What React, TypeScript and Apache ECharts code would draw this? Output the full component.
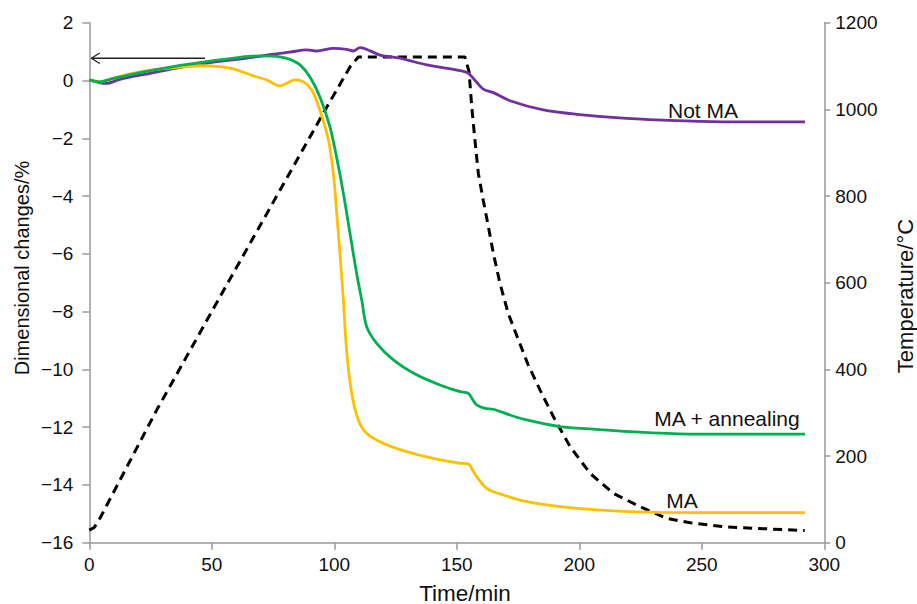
import React, { useEffect, useRef } from "react";
import * as echarts from "echarts";

// ---- Data ----
const xTicks = [0, 50, 100, 150, 200, 250, 300];

const notMaTime = [0, 4.4, 7.1, 12.5, 24.8, 35, 47.8, 64.2, 75.1, 81.9, 88.7, 92.8, 99.6, 105, 107.7, 110.5, 118.7, 126.8, 137.7, 151.3, 154.7, 157.5, 160.8, 164.9, 171.7, 185.3, 198.9, 219.3, 239.8, 260.2, 292.1];
const notMaValues = [0.02, -0.08, -0.1, 0.04, 0.25, 0.42, 0.6, 0.77, 0.91, 0.98, 1.06, 1.02, 1.11, 1.08, 1.02, 1.14, 0.88, 0.77, 0.54, 0.34, 0.25, 0.0, -0.3, -0.42, -0.7, -1.02, -1.17, -1.31, -1.39, -1.43, -1.43];

const annealTime = [0, 4.4, 8.4, 20.7, 34.3, 47.8, 61.5, 69.7, 77.8, 81.9, 86, 90, 94.1, 98.2, 100.9, 103.7, 106.4, 109.1, 111.2, 113.2, 117.3, 124.1, 133.6, 143.1, 151.3, 154.7, 156.5, 158.1, 161.5, 164.9, 171.7, 178.5, 192.1, 205.7, 226.1, 246.5, 292.1];
const annealValues = [0.02, -0.05, 0.04, 0.27, 0.48, 0.65, 0.8, 0.85, 0.82, 0.73, 0.54, 0.13, -0.56, -1.6, -2.64, -3.9, -5.29, -6.67, -7.6, -8.52, -9.1, -9.67, -10.19, -10.54, -10.77, -10.83, -11.05, -11.23, -11.35, -11.38, -11.58, -11.75, -11.98, -12.07, -12.18, -12.24, -12.24];

const maTime = [0, 4.4, 9.8, 20.7, 34.3, 45.2, 53.3, 58.8, 66.9, 72.4, 77.8, 80.5, 83.9, 87.3, 90.8, 94.1, 97.6, 99.6, 101, 102.3, 103.7, 105, 107.1, 109.8, 113.2, 120, 129.5, 140.4, 151.3, 154.7, 156.5, 158.1, 162.2, 167.6, 178.5, 192.1, 212.5, 232.9, 292.1];
const maValues = [0.02, -0.05, 0.08, 0.3, 0.44, 0.51, 0.48, 0.4, 0.16, 0.02, -0.19, -0.1, 0.02, -0.04, -0.33, -1.02, -2.06, -3.21, -4.6, -5.98, -7.6, -9.33, -10.83, -11.75, -12.21, -12.56, -12.85, -13.08, -13.25, -13.27, -13.5, -13.71, -14.12, -14.31, -14.58, -14.75, -14.89, -14.95, -14.96];

const tempTime = [0, 2, 4.4, 27.5, 53.3, 96.2, 106.4, 109.8, 153.3, 155, 156.1, 157.4, 158.8, 160.8, 162.9, 164.9, 167.6, 171, 174.4, 179, 184, 189.4, 196.2, 204.4, 213.9, 224.8, 235.7, 245.2, 258.8, 272.4, 292];
const tempValues = [29, 35, 57, 306, 567, 998, 1098, 1121, 1121, 1087, 1006, 929, 852, 790, 729, 668, 599, 529, 479, 412, 352, 291, 222, 160, 114, 83, 56, 46, 37, 33, 28];

// arrow pointing to the left axis (annotation)
const arrowShaftTime = [47.2, 0.8];
const arrowShaftValue = [0.77, 0.77];
const arrowHeadTime = [4.3, 0.8, 4.3];
const arrowHeadValue = [0.95, 0.77, 0.59];

const zip = (a: number[], b: number[]) => a.map((t, i) => [t, b[i]]);

const FONT = "'Liberation Sans', Arial, Helvetica, sans-serif";
const AXIS_COLOR = "#9a9a9a";
const TEXT_COLOR = "#111";

export default function App() {
  const ref = useRef<HTMLDivElement>(null);
  useEffect(() => {
    if (!ref.current) return;
    const chart = echarts.init(ref.current, undefined, { renderer: "svg" });
    const minus = (v: number) => String(v).replace("-", "\u2212");
    const plain = (v: number) => String(v);
    const axisCommon = {
      axisLine: { show: true, onZero: false, lineStyle: { color: AXIS_COLOR, width: 1.5 } },
      splitLine: { show: false },
    };
    chart.setOption({
      animation: false,
      backgroundColor: "#ffffff",
      textStyle: { fontFamily: FONT },
      grid: { left: 89.3, right: 92.7, top: 22.7, bottom: 61.3, containLabel: false },
      xAxis: {
        type: "value",
        min: xTicks[0],
        max: xTicks[xTicks.length - 1],
        interval: 50,
        ...axisCommon,
        axisTick: { show: true, inside: false, length: 7, lineStyle: { color: AXIS_COLOR, width: 1.5 } },
        axisLabel: { fontSize: 19, color: TEXT_COLOR, margin: 12, fontFamily: FONT, formatter: plain },
      },
      yAxis: [
        {
          type: "value",
          position: "left",
          min: -16,
          max: 2,
          interval: 2,
          ...axisCommon,
          axisTick: { show: true, inside: false, length: 7, lineStyle: { color: AXIS_COLOR, width: 1.5 } },
          axisLabel: { fontSize: 19, color: TEXT_COLOR, margin: 16, fontFamily: FONT, formatter: minus },
        },
        {
          type: "value",
          position: "right",
          min: 0,
          max: 1200,
          interval: 200,
          ...axisCommon,
          axisTick: { show: true, inside: false, length: 6, lineStyle: { color: AXIS_COLOR, width: 1.5 } },
          axisLabel: { fontSize: 19, color: TEXT_COLOR, margin: 11, fontFamily: FONT, formatter: plain },
        },
      ],
      series: [
        {
          name: "Temperature",
          type: "line",
          yAxisIndex: 1,
          data: zip(tempTime, tempValues),
          showSymbol: false,
          smooth: false,
          lineStyle: { color: "#000", width: 3, type: [9, 6] },
          z: 2,
        },
        {
          name: "Not MA",
          type: "line",
          data: zip(notMaTime, notMaValues),
          showSymbol: false,
          smooth: 0.3,
          lineStyle: { color: "#7030A0", width: 2.8 },
          z: 3,
        },
        {
          name: "MA",
          type: "line",
          data: zip(maTime, maValues),
          showSymbol: false,
          smooth: 0.3,
          lineStyle: { color: "#FFC000", width: 2.8 },
          z: 4,
        },
        {
          name: "MA + annealing",
          type: "line",
          data: zip(annealTime, annealValues),
          showSymbol: false,
          smooth: 0.3,
          lineStyle: { color: "#00B050", width: 2.8 },
          z: 5,
        },
        {
          name: "arrowShaft",
          type: "line",
          data: zip(arrowShaftTime, arrowShaftValue),
          showSymbol: false,
          lineStyle: { color: "#222", width: 1.3 },
          z: 6,
        },
        {
          name: "arrowHead",
          type: "line",
          data: zip(arrowHeadTime, arrowHeadValue),
          showSymbol: false,
          lineStyle: { color: "#222", width: 1.3 },
          z: 6,
        },
      ],
      graphic: [
        { type: "text", x: 703, y: 110, style: { text: "Not MA", fontSize: 21, fontFamily: FONT, fill: TEXT_COLOR, align: "center", verticalAlign: "middle" } },
        { type: "text", x: 727, y: 418, style: { text: "MA + annealing", fontSize: 21, fontFamily: FONT, fill: TEXT_COLOR, align: "center", verticalAlign: "middle" } },
        { type: "text", x: 682, y: 500, style: { text: "MA", fontSize: 21, fontFamily: FONT, fill: TEXT_COLOR, align: "center", verticalAlign: "middle" } },
        { type: "text", x: 465, y: 593, style: { text: "Time/min", fontSize: 22.5, fontFamily: FONT, fill: TEXT_COLOR, align: "center", verticalAlign: "middle" } },
        { type: "text", x: 22, y: 268, rotation: Math.PI / 2, style: { text: "Dimensional changes/%", fontSize: 20, fontFamily: FONT, fill: TEXT_COLOR, align: "center", verticalAlign: "middle" } },
        { type: "text", x: 905, y: 296, rotation: Math.PI / 2, style: { text: "Temperature/°C", fontSize: 22, fontFamily: FONT, fill: TEXT_COLOR, align: "center", verticalAlign: "middle" } },
      ],
    });
    return () => chart.dispose();
  }, []);
  return (
    <div
      ref={ref}
      style={{ position: "absolute", left: 0, top: 0, width: 917, height: 604 }}
    />
  );
}
